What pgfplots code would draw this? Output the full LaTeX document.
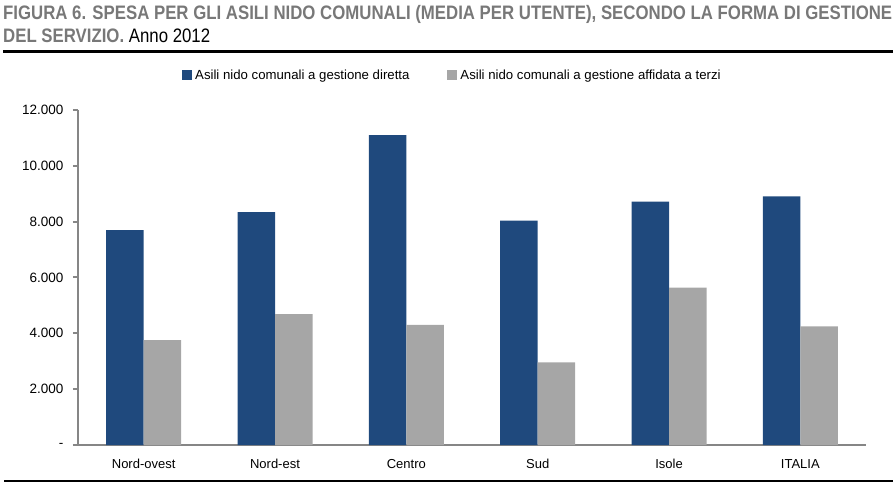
\documentclass[border=0pt]{standalone}
\usepackage{fontspec}
\setmainfont{Liberation Sans}
\usepackage{pgfplots}
\pgfplotsset{compat=1.18}
\definecolor{cblue}{RGB}{31,73,125}
\definecolor{cgray}{RGB}{166,166,166}
\definecolor{tgray}{RGB}{120,120,120}
\definecolor{agray}{RGB}{134,134,134}
\newlength\tw
\newcommand\lineone{\fontsize{19.5}{19.5}\selectfont\bfseries FIGURA 6. SPESA PER GLI ASILI NIDO COMUNALI (MEDIA PER UTENTE), SECONDO LA FORMA DI GESTIONE}
\begin{document}
\settowidth\tw{\lineone}%
\pgfmathsetmacro\tsx{889/\tw}%
\begin{tikzpicture}
\useasboundingbox (0,0) rectangle (896pt,490pt);
\node[anchor=base west, inner sep=0pt, text=tgray] at (3pt,470pt) {\scalebox{\tsx}[1]{\lineone}};
\node[anchor=base west, inner sep=0pt] at (3pt,447pt) {\scalebox{\tsx}[1]{\fontsize{19.5}{19.5}\selectfont\textcolor{tgray}{\bfseries DEL SERVIZIO.} Anno 2012}};
\draw[line width=3pt] (3pt,438pt) -- (893pt,438pt);
\draw[line width=2pt] (4pt,9pt) -- (893pt,9pt);
\begin{axis}[
  at={(78pt,45pt)}, anchor=south west,
  scale only axis, width=788pt, height=335pt,
  xmin=-0.5, xmax=5.5, ymin=0, ymax=12000,
  ybar=0pt, bar width=37.5pt,
  axis x line*=bottom, axis y line*=left,
  axis line style={-, draw=agray, line width=2pt},
  xtick={0,...,5},
  xticklabels={Nord-ovest,Nord-est,Centro,Sud,Isole,ITALIA},
  x tick style={draw=none},
  extra x ticks={-0.5,0.5,1.5,2.5,3.5,4.5,5.5},
  extra x tick labels={},
  extra x tick style={tick align=outside, major tick length=5pt, tick style={draw=agray, line width=2pt}},
  scaled y ticks=false,
  ytick={0,2000,4000,6000,8000,10000,12000},
  yticklabels={-,2.000,4.000,6.000,8.000,10.000,12.000},
  y tick style={draw=agray, line width=2pt},
  tick align=outside, major tick length=5pt,
  xticklabel style={font=\fontsize{13}{15}\selectfont, yshift=-6pt},
  yticklabel style={font=\fontsize{13.5}{15}\selectfont, xshift=-6pt},
  legend columns=2,
  legend style={at={(axis description cs:0.132,1.1045)}, anchor=west, draw=none, fill=none,
    font=\fontsize{13.2}{15}\selectfont, inner sep=0pt,
    nodes={inner sep=1pt},
    /tikz/every odd column/.append style={column sep=2pt},
    /tikz/every even column/.append style={column sep=37pt}},
  mylegend/.style={legend image code/.code={\fill[##1] (0pt,-5pt) rectangle (10pt,5pt);}},
]
\addplot[fill=cblue, draw=none, mylegend] coordinates {(0,7700) (1,8345) (2,11100) (3,8035) (4,8715) (5,8905)};
\addplot[fill=cgray, draw=none, mylegend] coordinates {(0,3760) (1,4690) (2,4300) (3,2960) (4,5635) (5,4250)};
\legend{Asili nido comunali a gestione diretta, Asili nido comunali a gestione affidata a terzi}
\end{axis}
\end{tikzpicture}
\end{document}
